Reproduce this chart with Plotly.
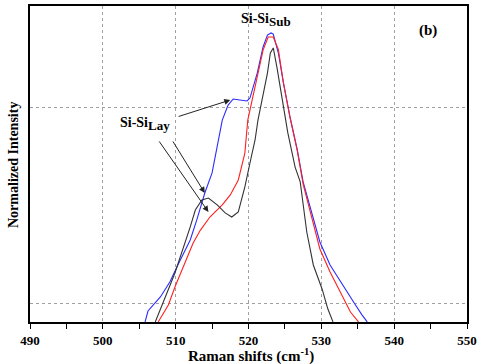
import plotly.graph_objects as go

# Raman shift (cm^-1) and normalized intensity for the three spectra
blue_x = [505.8, 506.2, 507.9, 509.2, 510.3, 512.0, 512.9, 514.0, 515.0, 516.1, 516.4, 517.2,
          517.9, 518.8, 519.8, 520.2, 521.2, 522.0, 522.6, 523.1, 523.4, 524.1, 524.8, 525.7,
          526.7, 527.5, 529.8, 531.2, 533.5, 534.6, 535.6, 536.3]
blue_y = [-0.097, -0.041, 0.031, 0.108, 0.195, 0.323, 0.426, 0.564, 0.667, 0.887, 0.938, 1.015,
          1.046, 1.041, 1.036, 1.051, 1.179, 1.313, 1.374, 1.385, 1.379, 1.282, 1.128, 0.954,
          0.785, 0.621, 0.313, 0.195, 0.056, -0.005, -0.062, -0.097]

red_x = [507.6, 509.0, 509.9, 511.0, 512.4, 513.4, 514.7, 516.4, 517.5, 518.6, 519.5, 519.9,
         520.5, 521.2, 522.0, 522.7, 523.4, 524.1, 524.8, 525.7, 526.7, 527.5, 529.8, 531.2,
         532.6, 534.0, 535.1]
red_y = [-0.097, -0.010, 0.082, 0.185, 0.308, 0.374, 0.441, 0.503, 0.554, 0.631, 0.769, 0.938,
         1.041, 1.154, 1.297, 1.364, 1.364, 1.300, 1.128, 0.950, 0.780, 0.610, 0.277, 0.159,
         0.056, -0.046, -0.097]

black_x = [507.2, 507.9, 508.8, 509.9, 511.0, 512.0, 512.7, 513.6, 514.5, 515.7, 516.8, 517.7,
           518.6, 519.5, 520.2, 520.9, 521.3, 521.9, 522.6, 523.0, 523.4, 523.9, 524.6, 525.4,
           526.4, 527.1, 528.0, 528.9, 530.1, 530.9, 531.6]
black_y = [-0.097, -0.036, 0.051, 0.154, 0.272, 0.390, 0.477, 0.528, 0.538, 0.503, 0.462, 0.441,
           0.467, 0.595, 0.718, 0.836, 0.938, 1.056, 1.179, 1.282, 1.308, 1.210, 1.041, 0.872,
           0.697, 0.621, 0.364, 0.195, 0.072, -0.031, -0.097]

x_ticks = [490, 500, 510, 520, 530, 540, 550]
y_grid = [0, 1]

FONT = "Liberation Serif"

fig = go.Figure()
for xs, ys, col in [(blue_x, blue_y, "#2b2bff"), (red_x, red_y, "#ff2020"), (black_x, black_y, "#333333")]:
    fig.add_trace(go.Scatter(x=xs, y=ys, mode="lines", line=dict(color=col, width=1.1),
                             showlegend=False, hoverinfo="skip"))

fig.update_layout(
    width=480, height=364,
    margin=dict(l=30, r=13, t=6, b=42, autoexpand=False),
    paper_bgcolor="white", plot_bgcolor="white",
    font=dict(family=FONT, color="black"),
    xaxis=dict(
        range=[490, 550], tickvals=x_ticks, ticktext=[f"<b>{v}</b>" for v in x_ticks],
        ticks="outside", ticklen=5, tickwidth=1.2, tickcolor="black",
        minor=dict(dtick=5, tick0=490, ticks="outside", ticklen=5, tickwidth=1.2, tickcolor="black", showgrid=False),
        showline=True, linecolor="black", linewidth=2, mirror=True,
        showgrid=True, gridcolor="#a0a0a0", griddash="dot", gridwidth=1,
        zeroline=False, tickfont=dict(size=13, family=FONT), automargin=False,
        ticklabelstandoff=0,
    ),
    yaxis=dict(
        range=[-0.0974, 1.523], tickvals=y_grid, showticklabels=False, ticks="",
        showline=True, linecolor="black", linewidth=2, mirror=True,
        showgrid=True, gridcolor="#a0a0a0", griddash="dot", gridwidth=1,
        zeroline=False, automargin=False,
    ),
)

# axis titles
fig.add_annotation(x=(251 - 30) / 437, y=-(355 - 322) / 316, xref="paper", yref="paper",
                   xanchor="center", yanchor="middle",
                   text="<b>Raman shifts (cm<sup>-1</sup>)</b>", showarrow=False,
                   font=dict(size=15, family=FONT, color="black"))
fig.add_annotation(x=-(30 - 13) / 437, y=(322 - 165) / 316, xref="paper", yref="paper",
                   xanchor="center", yanchor="middle",
                   text="<b>Normalized Intensity</b>", showarrow=False, textangle=-90,
                   font=dict(size=14, family=FONT, color="black"))

sub = "<span style='font-size:13px'>{}</span>"
ann_font = dict(size=14, family=FONT, color="black")
fig.add_annotation(x=522.4, y=1.45, xref="x", yref="y",
                   text="<b>Si-Si<sub>" + sub.format("Sub") + "</sub></b>",
                   showarrow=False, font=ann_font)
fig.add_annotation(x=544.7, y=1.395, xref="x", yref="y", text="<b>(b)</b>",
                   showarrow=False, font=dict(size=15, family=FONT, color="black"))
fig.add_annotation(x=505.8, y=0.918, xref="x", yref="y",
                   text="<b>Si-Si<sub>" + sub.format("Lay") + "</sub></b>",
                   showarrow=False, font=ann_font)

arrows = [((510.2, 0.954), (517.5, 1.041)),
          ((507.6, 0.836), (514.5, 0.467)),
          ((509.5, 0.836), (514.0, 0.564))]
for (tx, ty), (hx, hy) in arrows:
    fig.add_annotation(x=hx, y=hy, ax=tx, ay=ty, xref="x", yref="y", axref="x", ayref="y",
                       text="", showarrow=True, arrowhead=2, arrowsize=1.2, arrowwidth=1,
                       arrowcolor="#222222")

fig.write_html("out.html", config={"displayModeBar": False},
               post_script="document.body.style.margin='0';")
